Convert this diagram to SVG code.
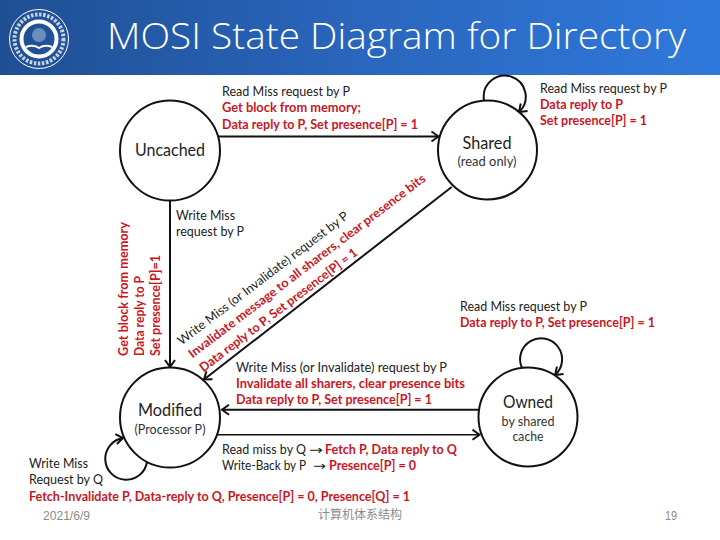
<svg xmlns="http://www.w3.org/2000/svg" width="720" height="540" viewBox="0 0 720 540">
<style>
.t{font-family:Lato,"Liberation Sans",sans-serif;font-size:12.5px;fill:#222}
.r{font-family:Lato,"Liberation Sans",sans-serif;font-size:12.5px;font-weight:700;fill:#c9161f}
.n{font-family:Lato,"Liberation Sans",sans-serif;font-size:17px;fill:#222;text-anchor:middle}
.s{font-family:Lato,"Liberation Sans",sans-serif;font-size:13px;fill:#333;text-anchor:middle}
.f{font-family:"Liberation Sans","Noto Sans CJK SC",sans-serif;font-size:12px;fill:#8a8a8a}
.ar{font-family:"DejaVu Sans",sans-serif;font-size:12.5px;fill:#222}
.st{fill:#fff;stroke:#111;stroke-width:2}
.c{fill:none;stroke:#111;stroke-width:2}
.c2{fill:none;stroke:#111;stroke-width:1.5}
.lg{fill:none;stroke:#fff}
</style>
<defs>
<linearGradient id="hd" x1="0" x2="1" y1="0" y2="0"><stop offset="0" stop-color="#1f4f93"/><stop offset="0.5" stop-color="#2a66bd"/><stop offset="1" stop-color="#2f79dc"/></linearGradient>
<marker id="a" markerUnits="userSpaceOnUse" markerWidth="14" markerHeight="14" refX="10" refY="6" orient="auto"><path d="M3 1 L10 6 L3 11" fill="none" stroke="#111" stroke-width="2"/></marker>
</defs>
<rect width="720" height="540" fill="#fff"/>
<rect id="header" width="720" height="75" fill="url(#hd)"/>
<g id="logo">
<circle class="lg" cx="39" cy="39" r="29.5" stroke-width="1"/>
<circle class="lg" cx="39" cy="39" r="24.5" stroke-width="4" stroke-dasharray="2.5 1.6" opacity="0.75"/>
<circle class="lg" cx="39" cy="39" r="17.5" stroke-width="4"/>
<circle cx="39" cy="35" r="7" fill="#fff" opacity="0.35"/>
<path class="lg" d="M26 47 Q33 44 39 48 Q45 44 52 47" stroke-width="2"/>
</g>
<text x="107" y="49" font-family="'Open Sans','Noto Sans',sans-serif" font-weight="300" font-size="37" fill="#fff" textLength="579" lengthAdjust="spacingAndGlyphs">MOSI State Diagram for Directory</text>
<g id="connectors">
<path class="c" d="M218 136.500H438.500" marker-end="url(#a)"/>
<path class="c" d="M170 200V367" marker-end="url(#a)"/>
<path class="c" d="M451.700 187L204 379.500" marker-end="url(#a)"/>
<path class="c" d="M478 409.700H222" marker-end="url(#a)"/>
<path class="c2" d="M217 434.700H479.500" marker-end="url(#a)"/>
<path class="c" d="M484 100A21 21 0 1 1 519 112" marker-end="url(#a)"/>
<path class="c" d="M522 368A21 21 0 1 1 555 375" marker-end="url(#a)"/>
<path class="c" d="M147 462A21 21 0 1 1 123 438" marker-end="url(#a)"/>
</g>
<g id="uncached"><circle class="st" cx="170" cy="150.500" r="50"/><text class="n" x="170" y="156" textLength="70" lengthAdjust="spacingAndGlyphs">Uncached</text></g>
<g id="shared"><circle class="st" cx="487.500" cy="150" r="49.500"/><text class="n" x="487" y="149" textLength="49" lengthAdjust="spacingAndGlyphs">Shared</text><text class="s" x="487" y="166" textLength="59" lengthAdjust="spacingAndGlyphs">(read only)</text></g>
<g id="modified"><circle class="st" cx="170" cy="417.500" r="50"/><text class="n" x="170" y="416" textLength="64" lengthAdjust="spacingAndGlyphs">Modified</text><text class="s" x="170" y="434" textLength="71" lengthAdjust="spacingAndGlyphs">(Processor P)</text></g>
<g id="owned"><circle class="st" cx="528" cy="417" r="49.500"/><text class="n" x="528" y="408" textLength="50" lengthAdjust="spacingAndGlyphs">Owned</text><text class="s" x="528" y="426" textLength="53" lengthAdjust="spacingAndGlyphs">by shared</text><text class="s" x="528" y="441" textLength="31" lengthAdjust="spacingAndGlyphs">cache</text></g>
<g id="labels">
<text class="t" x="222" y="96" textLength="128" lengthAdjust="spacingAndGlyphs">Read Miss request by P</text>
<text class="r" x="222" y="112" textLength="139" lengthAdjust="spacingAndGlyphs">Get block from memory;</text>
<text class="r" x="222" y="129" textLength="196" lengthAdjust="spacingAndGlyphs">Data reply to P, Set presence[P] = 1</text>
<text class="t" x="540" y="93" textLength="127" lengthAdjust="spacingAndGlyphs">Read Miss request by P</text>
<text class="r" x="540" y="109" textLength="83" lengthAdjust="spacingAndGlyphs">Data reply to P</text>
<text class="r" x="540" y="125" textLength="107" lengthAdjust="spacingAndGlyphs">Set presence[P] = 1</text>
<text class="t" x="176" y="220" textLength="59" lengthAdjust="spacingAndGlyphs">Write Miss</text>
<text class="t" x="176" y="236" textLength="68" lengthAdjust="spacingAndGlyphs">request by P</text>
<text class="r" transform="translate(127.500 356) rotate(-90)" textLength="134" lengthAdjust="spacingAndGlyphs">Get block from memory</text>
<text class="r" transform="translate(143.500 356) rotate(-90)" textLength="80" lengthAdjust="spacingAndGlyphs">Data reply to P</text>
<text class="r" transform="translate(160 356) rotate(-90)" textLength="101" lengthAdjust="spacingAndGlyphs">Set presence[P]=1</text>
<text class="t" transform="translate(181.500 345.500) rotate(-37.300)" textLength="211" lengthAdjust="spacingAndGlyphs">Write Miss (or Invalidate) request by P</text>
<text class="r" transform="translate(192.500 358.500) rotate(-37.300)" textLength="294" lengthAdjust="spacingAndGlyphs">Invalidate message to all sharers, clear presence bits</text>
<text class="r" transform="translate(203.500 372.500) rotate(-37.300)" textLength="195" lengthAdjust="spacingAndGlyphs">Data reply to P, Set presence[P] = 1</text>
<text class="t" x="460" y="311" textLength="127" lengthAdjust="spacingAndGlyphs">Read Miss request by P</text>
<text class="r" x="460" y="327" textLength="195" lengthAdjust="spacingAndGlyphs">Data reply to P, Set presence[P] = 1</text>
<text class="t" x="236" y="372" textLength="211" lengthAdjust="spacingAndGlyphs">Write Miss (or Invalidate) request by P</text>
<text class="r" x="236" y="388" textLength="229" lengthAdjust="spacingAndGlyphs">Invalidate all sharers, clear presence bits</text>
<text class="r" x="236" y="404" textLength="196" lengthAdjust="spacingAndGlyphs">Data reply to P, Set presence[P] = 1</text>
<text class="t" x="222" y="454" textLength="84" lengthAdjust="spacingAndGlyphs">Read miss by Q</text>
<text class="ar" x="309" y="454" textLength="14" lengthAdjust="spacingAndGlyphs">→</text>
<text class="r" x="325" y="454" textLength="132" lengthAdjust="spacingAndGlyphs">Fetch P, Data reply to Q</text>
<text class="t" x="222" y="470" textLength="84" lengthAdjust="spacingAndGlyphs">Write-Back by P</text>
<text class="ar" x="313" y="470" textLength="13" lengthAdjust="spacingAndGlyphs">→</text>
<text class="r" x="329" y="470" textLength="87" lengthAdjust="spacingAndGlyphs">Presence[P] = 0</text>
<text class="t" x="29" y="468" textLength="59" lengthAdjust="spacingAndGlyphs">Write Miss</text>
<text class="t" x="29" y="484" textLength="74" lengthAdjust="spacingAndGlyphs">Request by Q</text>
<text class="r" x="29" y="501" textLength="381" lengthAdjust="spacingAndGlyphs">Fetch-Invalidate P, Data-reply to Q, Presence[P] = 0, Presence[Q] = 1</text>
</g>
<g id="footer">
<text class="f" x="43" y="520" textLength="47" lengthAdjust="spacingAndGlyphs">2021/6/9</text>
<text class="f" x="318" y="519" textLength="84" lengthAdjust="spacingAndGlyphs">计算机体系结构</text>
<text class="f" x="665" y="520" textLength="12" lengthAdjust="spacingAndGlyphs">19</text>
</g>
</svg>
